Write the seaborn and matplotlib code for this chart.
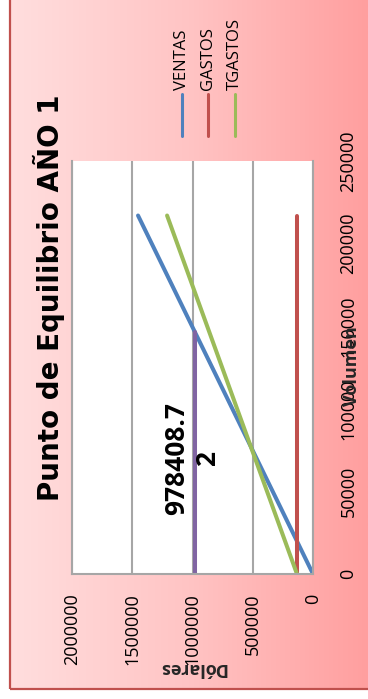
import numpy as np
import pandas as pd
import matplotlib
matplotlib.use("Agg")
import matplotlib.pyplot as plt
import seaborn as sns
from matplotlib.patches import Rectangle
from matplotlib.lines import Line2D
from matplotlib.colors import LinearSegmentedColormap

# ---- data ----
volumen = [0, 217000]
ventas = [0, 1452000]
gastos = [133000, 133000]
tgastos = [133000, 1211000]
pe_volumen = [0, 146500]
pe_dolares = [978408.72, 978408.72]
series = ["VENTAS", "GASTOS", "TGASTOS"]
colors = {"VENTAS": "#4F81BD", "GASTOS": "#C0504D", "TGASTOS": "#9BBB59", "PE": "#8064A2"}
x_ticks = [0, 500000, 1000000, 1500000, 2000000]
y_ticks = [0, 50000, 100000, 150000, 200000, 250000]
title = "Punto de Equilibrio AÑO 1"
pe_label = "978408.7\n2"

sns.set_theme(style="white")
plt.rcParams["font.family"] = ["Open Sans", "DejaVu Sans"]

W, H = 368, 699
fig = plt.figure(figsize=(W / 100, H / 100), dpi=100)
fig.patch.set_facecolor("white")


def fx(px):
    return px / W


def fy(py):
    return 1 - py / H


# gradient background with border
bg = fig.add_axes([fx(10), fy(689), 1 - fx(10), fy(0) - fy(689)], zorder=-2)
grad = np.linspace(0, 1, 256)[None, :]
cmap = LinearSegmentedColormap.from_list("g", ["#FFDEDE", "#FFC4C4", "#FF9F9F"])
bg.imshow(grad, aspect="auto", cmap=cmap, extent=[0, 1, 0, 1])
bg.axis("off")
fig.add_artist(Rectangle((fx(10), fy(689)), 1.5, 1.5, transform=fig.transFigure,
                         fill=False, ec="#C0504D", lw=1.6))

# main axes
ax = fig.add_axes([fx(72), fy(574), fx(313) - fx(72), fy(161) - fy(574)])
ax.set_facecolor("white")

rows = []
for name, dol in [("VENTAS", ventas), ("GASTOS", gastos), ("TGASTOS", tgastos)]:
    for v, d in zip(volumen, dol):
        rows.append({"Serie": name, "Volumen": v, "Dólares": d})
for v, d in zip(pe_volumen, pe_dolares):
    rows.append({"Serie": "PE", "Volumen": v, "Dólares": d})
df = pd.DataFrame(rows)

sns.lineplot(data=df, x="Dólares", y="Volumen", hue="Serie", palette=colors,
             sort=False, estimator=None, legend=False, linewidth=2.9, ax=ax)
for ln in ax.lines:
    ln.set_solid_capstyle("round")

ax.set_xlim(2000000, 0)
ax.set_ylim(0, 250000)
ax.set_xticks(x_ticks)
ax.set_xticklabels([str(t) for t in x_ticks], rotation=90)
ax.yaxis.tick_right()
ax.set_yticks(y_ticks)
ax.set_yticklabels([str(t) for t in y_ticks], rotation=90, va="center")
ax.tick_params(axis="x", length=0, pad=14, labelsize=13, labelcolor="black")
ax.tick_params(axis="y", length=0, pad=19, labelsize=13, labelcolor="black")
ax.grid(axis="x", color="#A6A6A6", lw=1.5)
ax.grid(axis="y", visible=False)
ax.set_axisbelow(True)
for s in ["left", "right", "bottom"]:
    ax.spines[s].set_color("#A6A6A6")
    ax.spines[s].set_linewidth(1.5)
ax.spines["top"].set_visible(False)

ax.set_xlabel("Dólares", rotation=180, fontsize=13, fontweight="bold", ha="center", va="center")
ax.xaxis.set_label_coords((192 - 72) / 241, (574 - 668) / 413)
ax.yaxis.set_label_position("right")
ax.set_ylabel("Volumen", rotation=90, fontsize=13, fontweight="bold", ha="center", va="center")
ax.yaxis.set_label_coords((352 - 72) / 241, (574 - 366) / 413)

ax.text(1004000, 70200, pe_label, rotation=90, ha="center", va="center",
        multialignment="center", fontsize=19, fontweight="bold", color="black")

fig.text(fx(49), fy(298), title, rotation=90, ha="center", va="center",
         fontsize=20, fontweight="bold", color="black", family=["DejaVu Sans"])

# legend
for name, px in zip(series, [182, 208, 235]):
    fig.add_artist(Line2D([fx(px), fx(px)], [fy(136), fy(94)], transform=fig.transFigure,
                          color=colors[name], lw=2.2, solid_capstyle="round"))
    fig.text(fx(px), fy(90), name, rotation=90, ha="center", va="bottom", fontsize=12,
             color="black")

fig.savefig("out.png", dpi=100)
